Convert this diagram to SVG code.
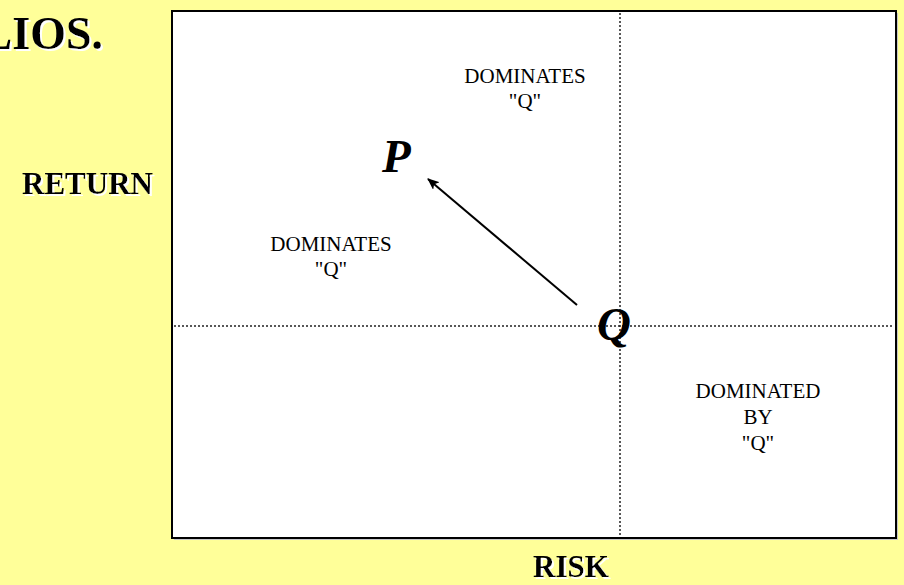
<svg xmlns="http://www.w3.org/2000/svg" width="904" height="585" viewBox="0 0 904 585">
<style>
.hdr{font-family:"Liberation Serif","Times New Roman",serif;font-weight:bold;fill:#000;filter:url(#ws)}
.lbl{font-family:"Liberation Serif","Times New Roman",serif;font-size:21px;fill:#000;text-anchor:middle}
.pt{font-family:"Liberation Serif","Times New Roman",serif;font-weight:bold;font-style:italic;font-size:47px;fill:#000}
.dot{stroke:#222;stroke-width:1.5;stroke-dasharray:2 2;fill:none}
</style>
<defs>
<filter id="ws" x="-10%" y="-20%" width="130%" height="150%">
<feDropShadow dx="2" dy="2" stdDeviation="0" flood-color="#fff" flood-opacity="1"/>
</filter>
<marker id="ah" viewBox="0 0 12 10" refX="11" refY="5" markerWidth="12" markerHeight="10" markerUnits="userSpaceOnUse" orient="auto">
<path d="M0,0 L12,5 L0,10 L3,5 Z" fill="#000"/>
</marker>
</defs>
<rect width="904" height="585" fill="#FFFF99"/>
<g id="title">
<text class="hdr" x="103" y="49" font-size="46" text-anchor="end">LIOS.</text>
</g>
<g id="axis-return">
<text class="hdr" x="22" y="194" font-size="31">RETURN</text>
</g>
<g id="axis-risk">
<text class="hdr" x="533" y="577" font-size="31">RISK</text>
</g>
<g id="chart">
<rect x="174" y="13" width="724" height="527" fill="#c8c8c8"/>
<rect x="172" y="11" width="724" height="527" fill="#fff" stroke="#000" stroke-width="2"/>
</g>
<g id="connectors">
<line class="dot" x1="620" y1="13" x2="620" y2="536"/>
<line class="dot" x1="174" y1="326" x2="894" y2="326"/>
<line x1="577" y1="305" x2="428" y2="179" stroke="#000" stroke-width="2" marker-end="url(#ah)"/>
</g>
<g id="node-top">
<text class="lbl" x="525" y="83">DOMINATES</text>
<text class="lbl" x="525" y="108">"Q"</text>
</g>
<g id="node-left">
<text class="lbl" x="331" y="251">DOMINATES</text>
<text class="lbl" x="331" y="276">"Q"</text>
</g>
<g id="node-right">
<text class="lbl" x="758" y="398">DOMINATED</text>
<text class="lbl" x="758" y="424">BY</text>
<text class="lbl" x="758" y="450">"Q"</text>
</g>
<g id="node-P">
<text class="pt" x="382" y="172">P</text>
</g>
<g id="node-Q">
<text class="pt" x="597" y="340">Q</text>
</g>
</svg>
